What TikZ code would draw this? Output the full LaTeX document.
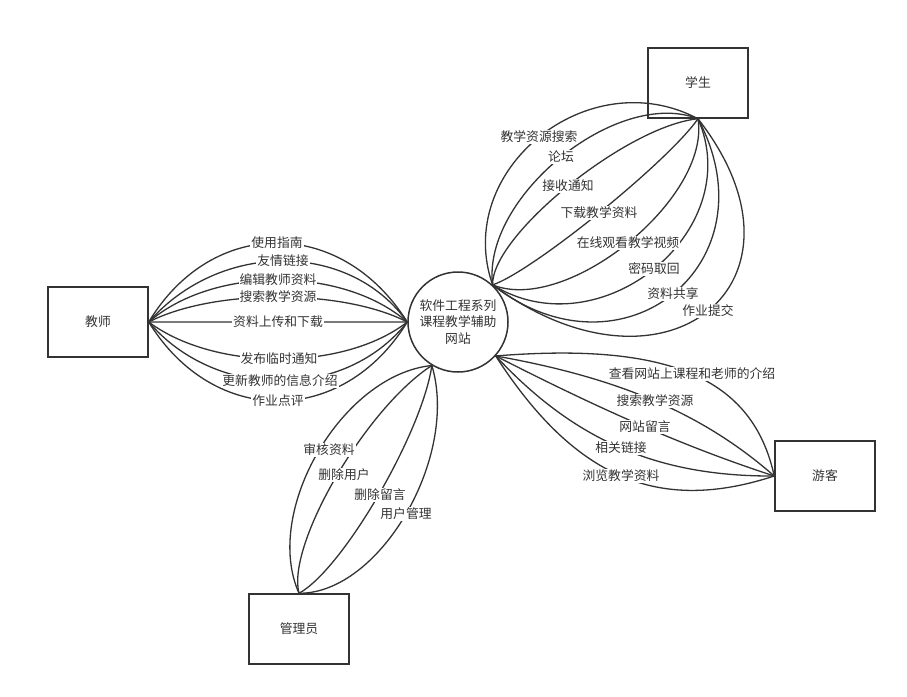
\documentclass[tikz,border=0pt]{standalone}
\usepackage{fontspec}
\setmainfont{Noto Sans CJK SC}
\usetikzlibrary{calc}
\definecolor{darkline}{HTML}{333333}
\pgfdeclarelayer{front}
\pgfsetlayers{main,front}

% curve from #2 to #3 passing through #4 at its middle, label #6 there (shifted by #5)
\newcommand{\flowline}[6][.25]{%
  \pgfmathsetmacro{\cfa}{1/3-#1}%
  \pgfmathsetmacro{\cfb}{#1-2/3}%
  \draw[flow] (#2) .. controls ($\cfa*(#2)+\cfb*(#3)+1.3333*(#4)$)
    and ($\cfa*(#3)+\cfb*(#2)+1.3333*(#4)$) .. (#3);
  \begin{pgfonlayer}{front}\node[lbl,#5] at (#4) {#6};\end{pgfonlayer}}

\begin{document}
\begin{tikzpicture}[x=1pt,y=-1pt,
    every node/.style={text=darkline,font=\fontsize{12.8}{16.5}\selectfont},
    entity/.style={draw=darkline,line width=1.5pt,minimum width=100pt,minimum height=70pt},
    flow/.style={draw=darkline,line width=1.3pt},
    lbl/.style={fill=white,inner sep=1pt}]
  \useasboundingbox[fill=white] (0,0) rectangle (907,696);
  \node[circle,draw=darkline,line width=1.5pt,fill=white,minimum size=100pt,inner sep=0pt,align=center]
    (site) at (458,322) {软件工程系列\\课程教学辅助\\网站};
  \node[entity] (teacher) at (98,322) {教师};
  \node[entity] (student) at (698,83) {学生};
  \node[entity] (visitor) at (825,476) {游客};
  \node[entity] (admin) at (299,629) {管理员};

  % teacher
  \flowline{teacher.east}{site.west}{277,243}{}{使用指南}
  \flowline{teacher.east}{site.west}{283,261}{}{友情链接}
  \flowline{teacher.east}{site.west}{278,280}{}{编辑教师资料}
  \flowline{teacher.east}{site.west}{278,297}{}{搜索教学资源}
  \flowline{teacher.east}{site.west}{278,322}{}{资料上传和下载}
  \flowline{teacher.east}{site.west}{279,359}{}{发布临时通知}
  \flowline{teacher.east}{site.west}{280,381}{}{更新教师的信息介绍}
  \flowline{teacher.east}{site.west}{278,401}{}{作业点评}

  % student
  \flowline[.17]{site.47}{student.south}{539,137}{}{教学资源搜索}
  \flowline[.17]{site.47}{student.south}{561,157}{}{论坛}
  \flowline[.17]{site.47}{student.south}{568,186}{}{接收通知}
  \flowline[.17]{site.47}{student.south}{599,213}{}{下载教学资料}
  \flowline[.15]{site.47}{student.south}{628,243}{}{在线观看教学视频}
  \flowline[.14]{site.47}{student.south}{654,269}{}{密码取回}
  \flowline[.13]{site.47}{student.south}{673,294}{}{资料共享}
  \flowline[.11]{site.47}{student.south}{708,311}{}{作业提交}

  % visitor
  \flowline[.35]{site.-42}{visitor.west}{692,374}{}{查看网站上课程和老师的介绍}
  \flowline[.35]{site.-42}{visitor.west}{655,401}{}{搜索教学资源}
  \flowline[.35]{site.-42}{visitor.west}{645,427}{}{网站留言}
  \flowline[.35]{site.-42}{visitor.west}{621,448}{}{相关链接}
  \flowline[.35]{site.-42}{visitor.west}{621,476}{}{浏览教学资料}

  % admin
  \flowline[.2]{site.-121}{admin.north}{318,452}{xshift=11pt,yshift=2pt}{审核资料}
  \flowline[.2]{site.-121}{admin.north}{336,477}{xshift=8pt,yshift=2pt}{删除用户}
  \flowline[.2]{site.-121}{admin.north}{378,496}{xshift=2pt,yshift=1pt}{删除留言}
  \flowline[.2]{site.-121}{admin.north}{406,514}{}{用户管理}
\end{tikzpicture}
\end{document}
